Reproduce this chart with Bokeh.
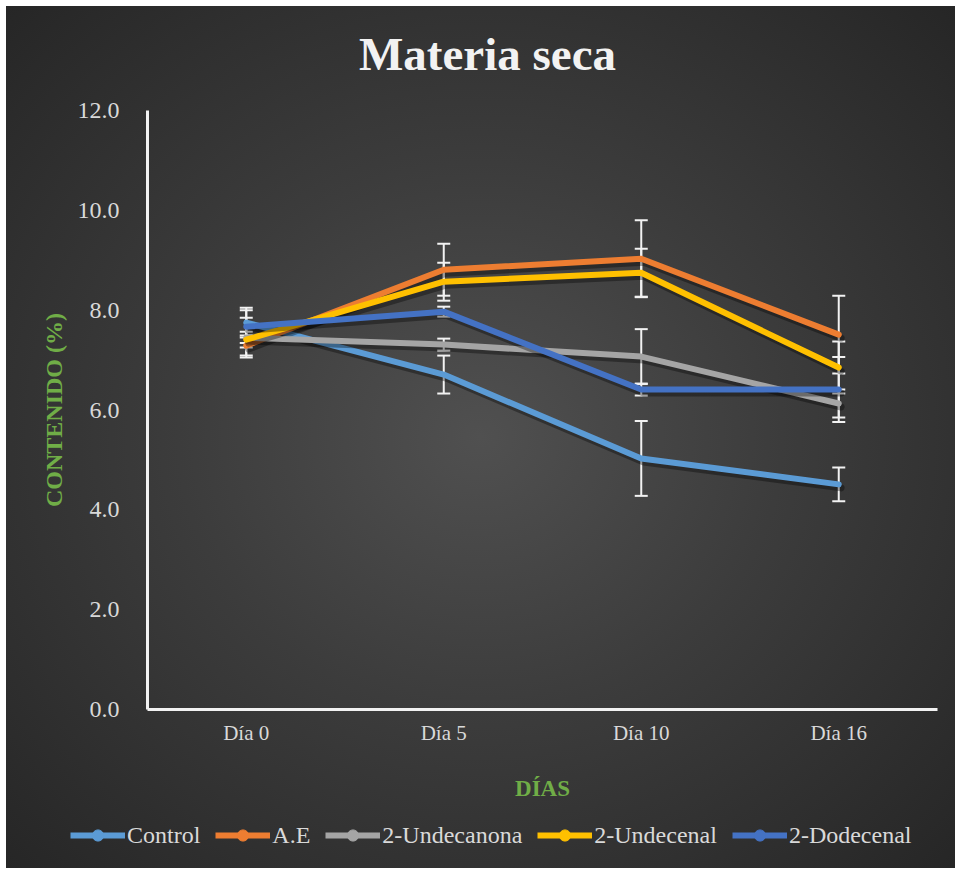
from bokeh.plotting import figure
from bokeh.layouts import column
from bokeh.models import (ColumnDataSource, FactorRange, Range1d, FixedTicker, PrintfTickFormatter,
                          Whisker, TeeHead, Legend, LegendItem, Label)
from bokeh.transform import dodge
from bokeh.embed import file_html
from bokeh.resources import INLINE

days = ["Día 0", "Día 5", "Día 10", "Día 16"]
series_names = ["Control", "A.E", "2-Undecanona", "2-Undecenal", "2-Dodecenal"]
control = [7.75, 6.71, 5.03, 4.51]
control_err = [0.30, 0.38, 0.75, 0.34]
ae = [7.29, 8.81, 9.03, 7.51]
ae_err = [0.20, 0.52, 0.77, 0.78]
undecanona = [7.45, 7.31, 7.07, 6.13]
undecanona_err = [0.40, 0.12, 0.55, 0.28]
undecenal = [7.41, 8.57, 8.75, 6.85]
undecenal_err = [0.16, 0.38, 0.48, 0.52]
dodecenal = [7.67, 7.97, 6.41, 6.41]
dodecenal_err = [0.33, 0.10, 0.12, 0.65]
y_ticks = [0, 2, 4, 6, 8, 10, 12]
title_text = "Materia seca"

colors = ["#5B9BD5", "#ED7D31", "#A5A5A5", "#FFC000", "#4472C4"]
values = [control, ae, undecanona, undecenal, dodecenal]
errors = [control_err, ae_err, undecanona_err, undecenal_err, dodecenal_err]

FONT = "Liberation Serif"
TXT = "#d9d9d9"
W = 949


def bare(fig):
    fig.border_fill_alpha = 0
    fig.background_fill_alpha = 0
    fig.outline_line_color = None
    fig.grid.grid_line_color = None


# ---- title strip ----
pt = figure(width=W, height=74, x_range=Range1d(0, 1), y_range=Range1d(0, 1),
            output_backend="svg", toolbar_location=None, min_border=0, frame_align=False)
bare(pt)
pt.axis.visible = False
pt.add_layout(Label(x=481, y=27, x_units="screen", y_units="screen", text=title_text,
                    text_align="center", text_baseline="middle", text_font=FONT,
                    text_font_size="47px", text_font_style="bold", text_color="#f2f2f2"))

# ---- main chart ----
p = figure(width=W, height=732, x_range=FactorRange(factors=days, range_padding=0),
           y_range=Range1d(0, 12), output_backend="svg", toolbar_location=None,
           min_border_left=141, min_border_right=18, min_border_top=30, min_border_bottom=103)
bare(p)

for ax in (p.xaxis[0], p.yaxis[0]):
    ax.axis_line_color = "#f2f2f2"
    ax.axis_line_width = 3
    ax.major_tick_line_color = None
    ax.minor_tick_line_color = None
    ax.major_label_text_font = FONT
    ax.major_label_text_color = TXT
    ax.axis_label_text_font = FONT
    ax.axis_label_text_font_style = "bold"
    ax.axis_label_text_color = "#70AD47"

p.yaxis.ticker = FixedTicker(ticks=y_ticks)
p.yaxis.formatter = PrintfTickFormatter(format="%.1f")
p.yaxis.major_label_text_font_size = "24px"
p.yaxis.major_label_standoff = 22
p.yaxis.axis_label = "CONTENIDO (%)"
p.yaxis.axis_label_text_font_size = "24px"
p.yaxis.axis_label_standoff = 8

p.xaxis.major_label_text_font_size = "21px"
p.xaxis.major_label_standoff = 5
p.xaxis.axis_label = "DÍAS"
p.xaxis.axis_label_text_font_size = "23px"
p.xaxis.axis_label_standoff = 28

# ---- legend strip ----
pl = figure(width=W, height=56, x_range=FactorRange(factors=days), y_range=Range1d(0, 12),
            output_backend="svg", toolbar_location=None, min_border=0, frame_align=False)
bare(pl)
pl.axis.visible = False

items = []
for name, col, vals, errs in zip(series_names, colors, values, errors):
    src = ColumnDataSource(dict(
        x=days, y=vals,
        ys=[v - 0.07 for v in vals],
        upper=[v + e for v, e in zip(vals, errs)],
        lower=[v - e for v, e in zip(vals, errs)],
    ))
    # soft shadow
    p.line(x=dodge("x", 0.012, range=p.x_range), y="ys", source=src, line_color="black",
           line_alpha=0.35, line_width=7, line_join="round", line_cap="round")
    p.line(x="x", y="y", source=src, line_color=col, line_width=6,
           line_join="round", line_cap="round")
    w = Whisker(base="x", upper="upper", lower="lower", source=src, dimension="height",
                line_color="#f2f2f2", line_width=2,
                upper_head=TeeHead(size=13, line_color="#f2f2f2", line_width=2),
                lower_head=TeeHead(size=13, line_color="#f2f2f2", line_width=2))
    p.add_layout(w)
    # legend key (line with circle marker), hidden in its strip, shown only in the legend
    lr = pl.line(x="x", y="y", source=src, line_color=col, line_width=6, visible=False)
    sr = pl.scatter(x="x", y="y", source=src, size=12, fill_color=col, line_color=col,
                    visible=False)
    items.append(LegendItem(label=name, renderers=[lr, sr]))

legend = Legend(items=items, orientation="horizontal", location=(64, 19),
                label_text_font=FONT, label_text_font_size="24px", label_text_color=TXT,
                glyph_width=55, glyph_height=28, label_standoff=2, spacing=15,
                background_fill_alpha=0, border_line_color=None, margin=0, padding=0)
pl.add_layout(legend, "center")

layout = column(pt, p, pl, spacing=0,
                styles={"background": "radial-gradient(ellipse at 50% 50%, #505050 0%, #3c3c3c 45%, #262626 100%)",
                        "margin-left": "6px", "margin-top": "6px"})

open("out.html", "w").write(file_html(layout, INLINE))
